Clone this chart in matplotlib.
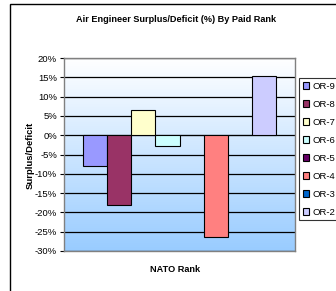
import numpy as np
import matplotlib
matplotlib.use('Agg')
import matplotlib.pyplot as plt
from matplotlib.colors import LinearSegmentedColormap
from matplotlib.patches import Rectangle

plt.rcParams['font.family'] = ['Liberation Sans', 'DejaVu Sans']

# data (surplus/deficit in %)
ranks = ['OR-9', 'OR-8', 'OR-7', 'OR-6', 'OR-5', 'OR-4', 'OR-3', 'OR-2']
values = [-7.9, -18.0, 6.6, -2.8, 0.0, -26.4, 0.0, 15.3]
colors = ['#9999FF', '#993366', '#FFFFCC', '#CCFFFF', '#660066', '#FF8080', '#0066CC', '#CCCCFF']
yticks = list(range(-30, 25, 5))

fig = plt.figure(figsize=(3.36, 2.91), dpi=100)
ax = fig.add_axes([64 / 336, 1 - 251 / 291, (295 - 64) / 336, (251 - 58) / 291])

xmin, xmax = -0.5 - 0.8, 7.5 + 0.8
ymin, ymax = -30, 20

# gradient background, light blue at bottom to white at top
cmap = LinearSegmentedColormap.from_list('bg', ['#FFFFFF', '#99CCFF'])
grad = np.linspace(1, 0, 256).reshape(-1, 1)
ax.imshow(grad, cmap=cmap, extent=[xmin, xmax, ymin, ymax], origin='lower',
          aspect='auto', zorder=0)

for t in yticks:
    ax.axhline(t, color='black', lw=0.9, zorder=1)

x = np.arange(len(ranks))
for i in range(len(ranks)):
    ax.bar(x[i], values[i], width=1.0, color=colors[i], edgecolor='black',
           linewidth=0.8, zorder=2, label=ranks[i])

ax.set_xlim(xmin, xmax)
ax.set_ylim(ymin, ymax)
ax.set_yticks(yticks)
ax.set_yticklabels([f'{t}%' for t in yticks], fontsize=6.8)
ax.set_xticks([])
ax.tick_params(axis='y', length=3, width=0.8, pad=2)
for s in ax.spines.values():
    s.set_color('#808080')
    s.set_linewidth(1.0)

fig.text(30 / 336, 1 - 155 / 291, 'Surplus/Deficit', fontsize=6.8, fontweight='bold',
         rotation=90, ha='center', va='center')
fig.text(175 / 336, 1 - 270 / 291, 'NATO Rank', fontsize=6.6, fontweight='bold',
         ha='center', va='center')
fig.text(176 / 336, 1 - 20 / 291, 'Air Engineer Surplus/Deficit (%) By Paid Rank',
         fontsize=6.6, fontweight='bold', ha='center', va='center')

leg = fig.legend(loc='upper left', bbox_to_anchor=(299 / 336, 1 - 78 / 291),
                 fontsize=6.8, frameon=True, fancybox=False, edgecolor='black',
                 handlelength=0.7, handleheight=0.7, handletextpad=0.3,
                 labelspacing=0.95, borderpad=0.4, borderaxespad=0)
leg.get_frame().set_linewidth(0.8)

# outer chart frame (cropped on the right and bottom)
fig.patches.append(Rectangle((10 / 336, -0.1), 1.0, 1 - 4 / 291 + 0.1,
                             transform=fig.transFigure, fill=False,
                             edgecolor='black', lw=1.0))

fig.savefig('out.png', dpi=100)
